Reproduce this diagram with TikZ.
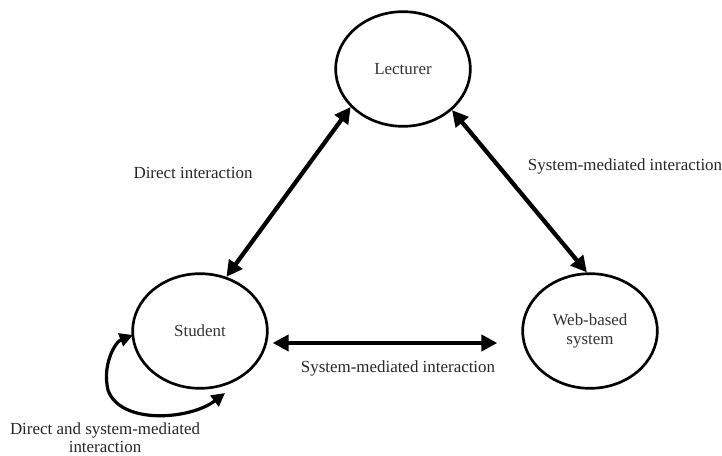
\documentclass[tikz,border=0pt]{standalone}
\usepackage{fontspec}
\setmainfont{Liberation Serif}
\usetikzlibrary{arrows.meta,shapes.geometric,calc}
\begin{document}
\begin{tikzpicture}[x=0.75pt,y=-0.75pt,
  actor/.style={ellipse,draw,line width=2pt,minimum width=101pt,minimum height=86pt,inner sep=0pt,text=black!80,font=\fontsize{12.7}{14.5}\selectfont,align=center},
  link/.style={line width=3.2pt,{Triangle[length=12pt,width=12pt]}-{Triangle[length=12pt,width=12pt]}},
  lbl/.style={text=black!85,font=\fontsize{12.7}{13.5}\selectfont,align=center,inner sep=0pt}]
\useasboundingbox (0,0) rectangle (722,456);
\node[actor] (lecturer) at (403,69) {Lecturer};
\node[actor] (student) at (200,331) {Student};
\node[actor] (web) at (590,331) {Web-based\\system};
\coordinate (h1) at ([shift={(4,12)}]student.east);
\coordinate (h2) at ([shift={(-24,12)}]web.west);
\draw[link] (student.64) -- (lecturer.216);
\draw[link] (lecturer.320) -- (web.93);
\draw[link] (h1) -- (h2);
\coordinate (s1) at (225,393);
\coordinate (s2) at (133,335);
\draw[line width=2.4pt,{Triangle[length=10pt,width=10pt]}-{Triangle[length=10pt,width=10pt]}] (s1) .. controls (190,420) and (120,425) .. (108,390) .. controls (102,365) and (115,342) .. (s2);
\node[lbl] (l1) at (193,173) {Direct interaction};
\node[lbl] (l2) at (625,166) {System-mediated interaction};
\node[lbl] (l3) at (398,368) {System-mediated interaction};
\node[lbl] (l4) at (105,438) {Direct and system-mediated\\interaction};
\end{tikzpicture}
\end{document}
